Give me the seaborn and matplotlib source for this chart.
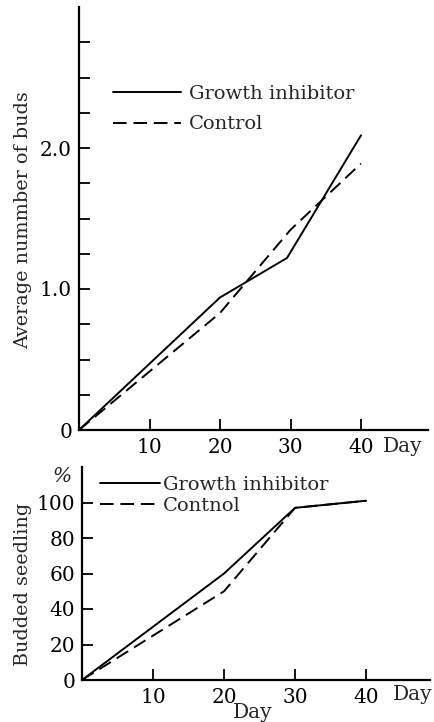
import matplotlib
matplotlib.use("Agg")
import matplotlib.pyplot as plt
import seaborn as sns
import pandas as pd
import numpy as np

# ---- data ----
top_days = [0, 20, 29.5, 40]
top_inhibitor = [0, 0.94, 1.22, 2.09]
top_control_days = [0, 20, 30, 40]
top_control = [0, 0.83, 1.42, 1.89]

bot_days = [0, 20, 30, 40]
bot_inhibitor = [0, 60, 97, 101]
bot_control_days = [0, 20, 30, 40]
bot_control = [0, 50, 97, 101]

x_ticks = [10, 20, 30, 40]
top_major = [0, 1, 2]
top_major_labels = ["0", "1.0", "2.0"]
top_minor = [0.25, 0.5, 0.75, 1.25, 1.5, 1.75, 2.25, 2.5, 2.75]
bot_yticks = [0, 20, 40, 60, 80, 100]

sns.set_style("ticks")
plt.rcParams['font.family'] = ['DejaVu Serif']
FS = 14.5
LFS = 14
YFS = 13.8
DASH = (0, (7, 3.5))

fig = plt.figure(figsize=(4.34, 7.22), dpi=100)
W, H = 434, 722

def axes_px(x0, y0, x1, y1):
    return fig.add_axes([x0 / W, 1 - y1 / H, (x1 - x0) / W, (y1 - y0) / H])

ax1 = axes_px(79, 7, 428, 430)
ax2 = axes_px(82, 467, 430, 680)

df1 = pd.DataFrame({"day": top_days, "v": top_inhibitor})
df1c = pd.DataFrame({"day": top_control_days, "v": top_control})
sns.lineplot(data=df1, x="day", y="v", ax=ax1, color="black", lw=1.4,
             label="Growth inhibitor")
sns.lineplot(data=df1c, x="day", y="v", ax=ax1, color="black", lw=1.4,
             linestyle=DASH, label="Control")

df2 = pd.DataFrame({"day": bot_days, "v": bot_inhibitor})
df2c = pd.DataFrame({"day": bot_control_days, "v": bot_control})
sns.lineplot(data=df2, x="day", y="v", ax=ax2, color="black", lw=1.4,
             label="Growth inhibitor")
sns.lineplot(data=df2c, x="day", y="v", ax=ax2, color="black", lw=1.4,
             linestyle=DASH, label="Contnol")

for ax in (ax1, ax2):
    sns.despine(ax=ax)
    for s in ("left", "bottom"):
        ax.spines[s].set_linewidth(1.6)
        ax.spines[s].set_color("black")
    ax.set_xlabel("")
    ax.set_ylabel("")
    ax.set_xticks(x_ticks)
    ax.tick_params(axis="both", which="both", direction="in", length=8,
                   width=1.3, labelsize=FS, color="black", labelcolor="black")
    ax.tick_params(axis="y", pad=5)
    ax.tick_params(axis="x", pad=6)

ax1.set_xlim(0, 49.5)
ax1.set_ylim(0, 3.0)
ax1.set_yticks(top_major)
ax1.set_yticklabels(top_major_labels)
ax1.set_yticks(top_minor, minor=True)
ax1.set_ylabel("Average nummber of buds", fontsize=YFS)
ax1.yaxis.set_label_coords(-0.135, 0.495)

ax2.set_xlim(0, 49)
ax2.set_ylim(0, 120)
ax2.set_yticks(bot_yticks)
ax2.set_ylabel("Budded seedling", fontsize=YFS)
ax2.yaxis.set_label_coords(-0.145, 0.45)

leg1 = ax1.legend(loc="upper left", bbox_to_anchor=(0.097, 0.816), frameon=False,
                  fontsize=LFS, handlelength=3.5, handletextpad=0.4,
                  labelspacing=0.65, borderpad=0, borderaxespad=0)
leg2 = ax2.legend(loc="upper left", bbox_to_anchor=(0.052, 0.958), frameon=False,
                  fontsize=LFS, handlelength=3.1, handletextpad=0.15,
                  labelspacing=0.15, borderpad=0, borderaxespad=0)

fig.text(403 / W, 1 - 446 / H, "Day", ha="center", va="center", fontsize=FS)
fig.text(413 / W, 1 - 694 / H, "Day", ha="center", va="center", fontsize=FS)
fig.text(253 / W, 1 - 713 / H, "Day", ha="center", va="center", fontsize=FS)
fig.text(62 / W, 1 - 477 / H, "%", ha="center", va="center", fontsize=FS,
         style="italic")

fig.savefig("out.png", dpi=100)
